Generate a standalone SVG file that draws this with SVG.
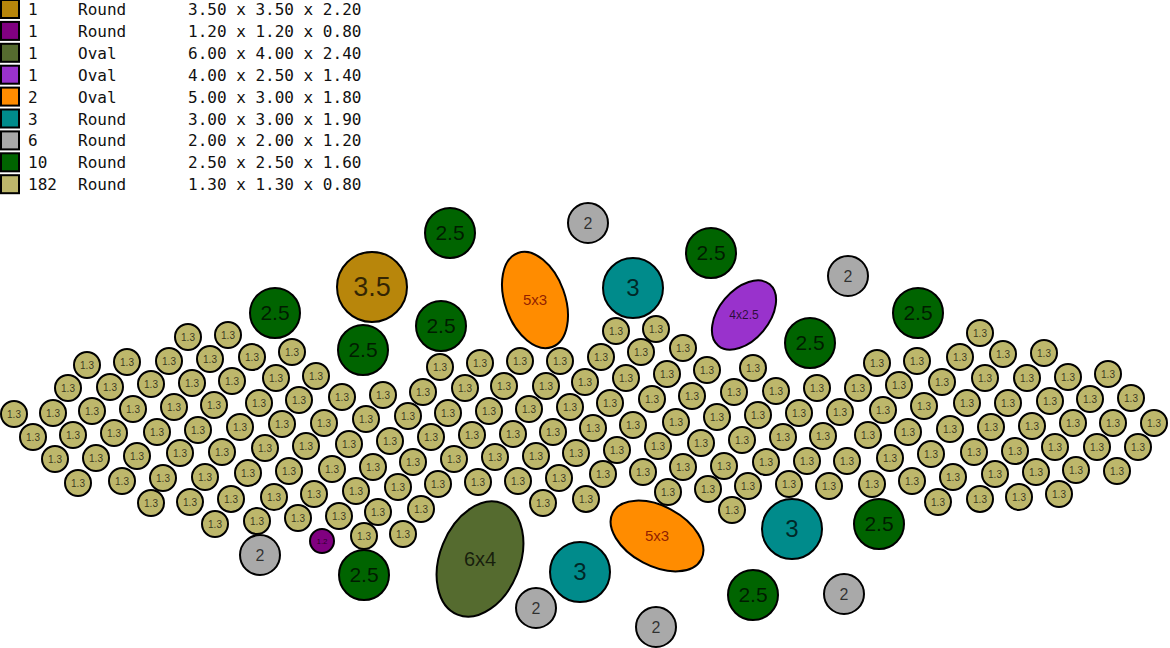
<svg xmlns="http://www.w3.org/2000/svg" width="1170" height="648" viewBox="0 0 1170 648">
<style>
.bg{fill:#fff}
circle,ellipse,.sw{stroke:#000;stroke-width:2}
.k{fill:#BDB76B}
.gr{fill:#006400}
.gy{fill:#A9A9A9}
.tl{fill:#008B8B}
.au{fill:#B8860B}
.pu{fill:#800080}
.ol{fill:#556B2F}
.or{fill:#FF8C00}
.dc{fill:#9932CC}
text{font-family:"Liberation Sans",Arial,sans-serif;text-anchor:middle;fill:#000;fill-opacity:.72}
.s{font-size:10px}
.lg{font-family:"DejaVu Sans Mono","Liberation Mono",monospace;font-size:16px;text-anchor:start;fill:#111;fill-opacity:1}
.ot{fill:#8a1800;fill-opacity:.95}
</style>
<rect class="bg" x="0" y="0" width="1170" height="648"/>
<g id="legend">
<rect class="sw au" x="1" y="0" width="18" height="18"/><text class="lg" x="28" y="15">1</text><text class="lg" x="78" y="15">Round</text><text class="lg" x="188" y="15">3.50 x 3.50 x 2.20</text>
<rect class="sw pu" x="1" y="21.9" width="18" height="18"/><text class="lg" x="28" y="36.9">1</text><text class="lg" x="78" y="36.9">Round</text><text class="lg" x="188" y="36.9">1.20 x 1.20 x 0.80</text>
<rect class="sw ol" x="1" y="43.8" width="18" height="18"/><text class="lg" x="28" y="58.8">1</text><text class="lg" x="78" y="58.8">Oval</text><text class="lg" x="188" y="58.8">6.00 x 4.00 x 2.40</text>
<rect class="sw dc" x="1" y="65.7" width="18" height="18"/><text class="lg" x="28" y="80.7">1</text><text class="lg" x="78" y="80.7">Oval</text><text class="lg" x="188" y="80.7">4.00 x 2.50 x 1.40</text>
<rect class="sw or" x="1" y="87.6" width="18" height="18"/><text class="lg" x="28" y="102.6">2</text><text class="lg" x="78" y="102.6">Oval</text><text class="lg" x="188" y="102.6">5.00 x 3.00 x 1.80</text>
<rect class="sw tl" x="1" y="109.5" width="18" height="18"/><text class="lg" x="28" y="124.5">3</text><text class="lg" x="78" y="124.5">Round</text><text class="lg" x="188" y="124.5">3.00 x 3.00 x 1.90</text>
<rect class="sw gy" x="1" y="131.4" width="18" height="18"/><text class="lg" x="28" y="146.4">6</text><text class="lg" x="78" y="146.4">Round</text><text class="lg" x="188" y="146.4">2.00 x 2.00 x 1.20</text>
<rect class="sw gr" x="1" y="153.3" width="18" height="18"/><text class="lg" x="28" y="168.3">10</text><text class="lg" x="78" y="168.3">Round</text><text class="lg" x="188" y="168.3">2.50 x 2.50 x 1.60</text>
<rect class="sw k" x="1" y="175.2" width="18" height="18"/><text class="lg" x="28" y="190.2">182</text><text class="lg" x="78" y="190.2">Round</text><text class="lg" x="188" y="190.2">1.30 x 1.30 x 0.80</text>
</g>
<g id="connectors"></g>
<g id="big">
<g id="b1"><circle class="gr" cx="450" cy="233" r="25"/><text x="450" y="233" dy=".35em" font-size="21">2.5</text></g>
<g id="b2"><circle class="gy" cx="588" cy="223" r="20"/><text x="588" y="223" dy=".35em" font-size="16">2</text></g>
<g id="b3"><circle class="gr" cx="711" cy="253" r="25"/><text x="711" y="253" dy=".35em" font-size="21">2.5</text></g>
<g id="b4"><circle class="gy" cx="848" cy="276" r="20"/><text x="848" y="276" dy=".35em" font-size="16">2</text></g>
<g id="b5"><circle class="au" cx="372" cy="287" r="35"/><text x="372" y="287" dy=".35em" font-size="27">3.5</text></g>
<g id="b6"><ellipse class="or" cx="535" cy="300" rx="30" ry="50" transform="rotate(-20 535 300)"/><text class="ot" x="535" y="300" dy=".35em" font-size="15">5x3</text></g>
<g id="b7"><circle class="tl" cx="633" cy="288" r="30"/><text x="633" y="288" dy=".35em" font-size="24">3</text></g>
<g id="b8"><ellipse class="dc" cx="744" cy="315" rx="25" ry="40" transform="rotate(40 744 315)"/><text x="744" y="315" dy=".35em" font-size="12">4x2.5</text></g>
<g id="b9"><circle class="gr" cx="275" cy="313" r="25"/><text x="275" y="313" dy=".35em" font-size="21">2.5</text></g>
<g id="b10"><circle class="gr" cx="918" cy="313" r="25"/><text x="918" y="313" dy=".35em" font-size="21">2.5</text></g>
<g id="b11"><circle class="gr" cx="441" cy="326" r="25"/><text x="441" y="326" dy=".35em" font-size="21">2.5</text></g>
<g id="b12"><circle class="gr" cx="363" cy="350" r="25"/><text x="363" y="350" dy=".35em" font-size="21">2.5</text></g>
<g id="b13"><circle class="gr" cx="810" cy="343" r="25"/><text x="810" y="343" dy=".35em" font-size="21">2.5</text></g>
<g id="b14"><circle class="gy" cx="260" cy="555" r="20"/><text x="260" y="555" dy=".35em" font-size="16">2</text></g>
<g id="b15"><circle class="pu" cx="322" cy="541" r="12"/><text x="322" y="541" dy=".35em" font-size="8">1.2</text></g>
<g id="b16"><circle class="gr" cx="364" cy="575" r="25"/><text x="364" y="575" dy=".35em" font-size="21">2.5</text></g>
<g id="b17"><ellipse class="ol" cx="480" cy="559" rx="40" ry="60" transform="rotate(22 480 559)"/><text x="480" y="559" dy=".35em" font-size="20">6x4</text></g>
<g id="b18"><circle class="tl" cx="580" cy="572" r="30"/><text x="580" y="572" dy=".35em" font-size="24">3</text></g>
<g id="b19"><circle class="gy" cx="536" cy="608" r="20"/><text x="536" y="608" dy=".35em" font-size="16">2</text></g>
<g id="b20"><circle class="gy" cx="656" cy="627" r="20"/><text x="656" y="627" dy=".35em" font-size="16">2</text></g>
<g id="b21"><ellipse class="or" cx="657" cy="536" rx="30" ry="50" transform="rotate(-62 657 536)"/><text class="ot" x="657" y="536" dy=".35em" font-size="15">5x3</text></g>
<g id="b22"><circle class="tl" cx="792" cy="529" r="30"/><text x="792" y="529" dy=".35em" font-size="24">3</text></g>
<g id="b23"><circle class="gr" cx="879" cy="524" r="25"/><text x="879" y="524" dy=".35em" font-size="21">2.5</text></g>
<g id="b24"><circle class="gr" cx="753" cy="595" r="25"/><text x="753" y="595" dy=".35em" font-size="21">2.5</text></g>
<g id="b25"><circle class="gy" cx="844" cy="594" r="20"/><text x="844" y="594" dy=".35em" font-size="16">2</text></g>
</g>
<g id="small">
<g id="s1"><circle class="k" cx="188" cy="337" r="13"/><text class="s" x="188" y="337" dy=".35em">1.3</text></g>
<g id="s2"><circle class="k" cx="87" cy="365" r="13"/><text class="s" x="87" y="365" dy=".35em">1.3</text></g>
<g id="s3"><circle class="k" cx="127" cy="362" r="13"/><text class="s" x="127" y="362" dy=".35em">1.3</text></g>
<g id="s4"><circle class="k" cx="169" cy="361" r="13"/><text class="s" x="169" y="361" dy=".35em">1.3</text></g>
<g id="s5"><circle class="k" cx="68" cy="388" r="13"/><text class="s" x="68" y="388" dy=".35em">1.3</text></g>
<g id="s6"><circle class="k" cx="110" cy="387" r="13"/><text class="s" x="110" y="387" dy=".35em">1.3</text></g>
<g id="s7"><circle class="k" cx="151" cy="384" r="13"/><text class="s" x="151" y="384" dy=".35em">1.3</text></g>
<g id="s8"><circle class="k" cx="192" cy="383" r="13"/><text class="s" x="192" y="383" dy=".35em">1.3</text></g>
<g id="s9"><circle class="k" cx="14" cy="414" r="13"/><text class="s" x="14" y="414" dy=".35em">1.3</text></g>
<g id="s10"><circle class="k" cx="53" cy="413" r="13"/><text class="s" x="53" y="413" dy=".35em">1.3</text></g>
<g id="s11"><circle class="k" cx="92" cy="411" r="13"/><text class="s" x="92" y="411" dy=".35em">1.3</text></g>
<g id="s12"><circle class="k" cx="133" cy="409" r="13"/><text class="s" x="133" y="409" dy=".35em">1.3</text></g>
<g id="s13"><circle class="k" cx="174" cy="407" r="13"/><text class="s" x="174" y="407" dy=".35em">1.3</text></g>
<g id="s14"><circle class="k" cx="33" cy="437" r="13"/><text class="s" x="33" y="437" dy=".35em">1.3</text></g>
<g id="s15"><circle class="k" cx="73" cy="435" r="13"/><text class="s" x="73" y="435" dy=".35em">1.3</text></g>
<g id="s16"><circle class="k" cx="114" cy="433" r="13"/><text class="s" x="114" y="433" dy=".35em">1.3</text></g>
<g id="s17"><circle class="k" cx="157" cy="432" r="13"/><text class="s" x="157" y="432" dy=".35em">1.3</text></g>
<g id="s18"><circle class="k" cx="198" cy="430" r="13"/><text class="s" x="198" y="430" dy=".35em">1.3</text></g>
<g id="s19"><circle class="k" cx="55" cy="459" r="13"/><text class="s" x="55" y="459" dy=".35em">1.3</text></g>
<g id="s20"><circle class="k" cx="96" cy="458" r="13"/><text class="s" x="96" y="458" dy=".35em">1.3</text></g>
<g id="s21"><circle class="k" cx="137" cy="456" r="13"/><text class="s" x="137" y="456" dy=".35em">1.3</text></g>
<g id="s22"><circle class="k" cx="180" cy="453" r="13"/><text class="s" x="180" y="453" dy=".35em">1.3</text></g>
<g id="s23"><circle class="k" cx="78" cy="483" r="13"/><text class="s" x="78" y="483" dy=".35em">1.3</text></g>
<g id="s24"><circle class="k" cx="122" cy="481" r="13"/><text class="s" x="122" y="481" dy=".35em">1.3</text></g>
<g id="s25"><circle class="k" cx="163" cy="478" r="13"/><text class="s" x="163" y="478" dy=".35em">1.3</text></g>
<g id="s26"><circle class="k" cx="205" cy="477" r="13"/><text class="s" x="205" y="477" dy=".35em">1.3</text></g>
<g id="s27"><circle class="k" cx="151" cy="503" r="13"/><text class="s" x="151" y="503" dy=".35em">1.3</text></g>
<g id="s28"><circle class="k" cx="190" cy="502" r="13"/><text class="s" x="190" y="502" dy=".35em">1.3</text></g>
<g id="s29"><circle class="k" cx="228" cy="335" r="13"/><text class="s" x="228" y="335" dy=".35em">1.3</text></g>
<g id="s30"><circle class="k" cx="210" cy="359" r="13"/><text class="s" x="210" y="359" dy=".35em">1.3</text></g>
<g id="s31"><circle class="k" cx="252" cy="357" r="13"/><text class="s" x="252" y="357" dy=".35em">1.3</text></g>
<g id="s32"><circle class="k" cx="292" cy="352" r="13"/><text class="s" x="292" y="352" dy=".35em">1.3</text></g>
<g id="s33"><circle class="k" cx="232" cy="381" r="13"/><text class="s" x="232" y="381" dy=".35em">1.3</text></g>
<g id="s34"><circle class="k" cx="276" cy="378" r="13"/><text class="s" x="276" y="378" dy=".35em">1.3</text></g>
<g id="s35"><circle class="k" cx="316" cy="376" r="13"/><text class="s" x="316" y="376" dy=".35em">1.3</text></g>
<g id="s36"><circle class="k" cx="214" cy="405" r="13"/><text class="s" x="214" y="405" dy=".35em">1.3</text></g>
<g id="s37"><circle class="k" cx="259" cy="403" r="13"/><text class="s" x="259" y="403" dy=".35em">1.3</text></g>
<g id="s38"><circle class="k" cx="299" cy="400" r="13"/><text class="s" x="299" y="400" dy=".35em">1.3</text></g>
<g id="s39"><circle class="k" cx="342" cy="397" r="13"/><text class="s" x="342" y="397" dy=".35em">1.3</text></g>
<g id="s40"><circle class="k" cx="383" cy="395" r="13"/><text class="s" x="383" y="395" dy=".35em">1.3</text></g>
<g id="s41"><circle class="k" cx="240" cy="427" r="13"/><text class="s" x="240" y="427" dy=".35em">1.3</text></g>
<g id="s42"><circle class="k" cx="282" cy="424" r="13"/><text class="s" x="282" y="424" dy=".35em">1.3</text></g>
<g id="s43"><circle class="k" cx="324" cy="423" r="13"/><text class="s" x="324" y="423" dy=".35em">1.3</text></g>
<g id="s44"><circle class="k" cx="366" cy="419" r="13"/><text class="s" x="366" y="419" dy=".35em">1.3</text></g>
<g id="s45"><circle class="k" cx="222" cy="452" r="13"/><text class="s" x="222" y="452" dy=".35em">1.3</text></g>
<g id="s46"><circle class="k" cx="265" cy="448" r="13"/><text class="s" x="265" y="448" dy=".35em">1.3</text></g>
<g id="s47"><circle class="k" cx="306" cy="446" r="13"/><text class="s" x="306" y="446" dy=".35em">1.3</text></g>
<g id="s48"><circle class="k" cx="349" cy="444" r="13"/><text class="s" x="349" y="444" dy=".35em">1.3</text></g>
<g id="s49"><circle class="k" cx="248" cy="473" r="13"/><text class="s" x="248" y="473" dy=".35em">1.3</text></g>
<g id="s50"><circle class="k" cx="289" cy="471" r="13"/><text class="s" x="289" y="471" dy=".35em">1.3</text></g>
<g id="s51"><circle class="k" cx="332" cy="469" r="13"/><text class="s" x="332" y="469" dy=".35em">1.3</text></g>
<g id="s52"><circle class="k" cx="373" cy="467" r="13"/><text class="s" x="373" y="467" dy=".35em">1.3</text></g>
<g id="s53"><circle class="k" cx="231" cy="499" r="13"/><text class="s" x="231" y="499" dy=".35em">1.3</text></g>
<g id="s54"><circle class="k" cx="274" cy="497" r="13"/><text class="s" x="274" y="497" dy=".35em">1.3</text></g>
<g id="s55"><circle class="k" cx="314" cy="494" r="13"/><text class="s" x="314" y="494" dy=".35em">1.3</text></g>
<g id="s56"><circle class="k" cx="356" cy="491" r="13"/><text class="s" x="356" y="491" dy=".35em">1.3</text></g>
<g id="s57"><circle class="k" cx="215" cy="524" r="13"/><text class="s" x="215" y="524" dy=".35em">1.3</text></g>
<g id="s58"><circle class="k" cx="257" cy="521" r="13"/><text class="s" x="257" y="521" dy=".35em">1.3</text></g>
<g id="s59"><circle class="k" cx="298" cy="518" r="13"/><text class="s" x="298" y="518" dy=".35em">1.3</text></g>
<g id="s60"><circle class="k" cx="339" cy="516" r="13"/><text class="s" x="339" y="516" dy=".35em">1.3</text></g>
<g id="s61"><circle class="k" cx="378" cy="512" r="13"/><text class="s" x="378" y="512" dy=".35em">1.3</text></g>
<g id="s62"><circle class="k" cx="364" cy="536" r="13"/><text class="s" x="364" y="536" dy=".35em">1.3</text></g>
<g id="s63"><circle class="k" cx="440" cy="367" r="13"/><text class="s" x="440" y="367" dy=".35em">1.3</text></g>
<g id="s64"><circle class="k" cx="480" cy="363" r="13"/><text class="s" x="480" y="363" dy=".35em">1.3</text></g>
<g id="s65"><circle class="k" cx="520" cy="361" r="13"/><text class="s" x="520" y="361" dy=".35em">1.3</text></g>
<g id="s66"><circle class="k" cx="560" cy="361" r="13"/><text class="s" x="560" y="361" dy=".35em">1.3</text></g>
<g id="s67"><circle class="k" cx="423" cy="392" r="13"/><text class="s" x="423" y="392" dy=".35em">1.3</text></g>
<g id="s68"><circle class="k" cx="465" cy="388" r="13"/><text class="s" x="465" y="388" dy=".35em">1.3</text></g>
<g id="s69"><circle class="k" cx="504" cy="386" r="13"/><text class="s" x="504" y="386" dy=".35em">1.3</text></g>
<g id="s70"><circle class="k" cx="546" cy="386" r="13"/><text class="s" x="546" y="386" dy=".35em">1.3</text></g>
<g id="s71"><circle class="k" cx="408" cy="416" r="13"/><text class="s" x="408" y="416" dy=".35em">1.3</text></g>
<g id="s72"><circle class="k" cx="448" cy="413" r="13"/><text class="s" x="448" y="413" dy=".35em">1.3</text></g>
<g id="s73"><circle class="k" cx="489" cy="411" r="13"/><text class="s" x="489" y="411" dy=".35em">1.3</text></g>
<g id="s74"><circle class="k" cx="529" cy="409" r="13"/><text class="s" x="529" y="409" dy=".35em">1.3</text></g>
<g id="s75"><circle class="k" cx="570" cy="407" r="13"/><text class="s" x="570" y="407" dy=".35em">1.3</text></g>
<g id="s76"><circle class="k" cx="390" cy="441" r="13"/><text class="s" x="390" y="441" dy=".35em">1.3</text></g>
<g id="s77"><circle class="k" cx="431" cy="437" r="13"/><text class="s" x="431" y="437" dy=".35em">1.3</text></g>
<g id="s78"><circle class="k" cx="472" cy="435" r="13"/><text class="s" x="472" y="435" dy=".35em">1.3</text></g>
<g id="s79"><circle class="k" cx="513" cy="434" r="13"/><text class="s" x="513" y="434" dy=".35em">1.3</text></g>
<g id="s80"><circle class="k" cx="553" cy="432" r="13"/><text class="s" x="553" y="432" dy=".35em">1.3</text></g>
<g id="s81"><circle class="k" cx="413" cy="462" r="13"/><text class="s" x="413" y="462" dy=".35em">1.3</text></g>
<g id="s82"><circle class="k" cx="454" cy="459" r="13"/><text class="s" x="454" y="459" dy=".35em">1.3</text></g>
<g id="s83"><circle class="k" cx="495" cy="457" r="13"/><text class="s" x="495" y="457" dy=".35em">1.3</text></g>
<g id="s84"><circle class="k" cx="536" cy="456" r="13"/><text class="s" x="536" y="456" dy=".35em">1.3</text></g>
<g id="s85"><circle class="k" cx="398" cy="487" r="13"/><text class="s" x="398" y="487" dy=".35em">1.3</text></g>
<g id="s86"><circle class="k" cx="438" cy="484" r="13"/><text class="s" x="438" y="484" dy=".35em">1.3</text></g>
<g id="s87"><circle class="k" cx="478" cy="482" r="13"/><text class="s" x="478" y="482" dy=".35em">1.3</text></g>
<g id="s88"><circle class="k" cx="518" cy="481" r="13"/><text class="s" x="518" y="481" dy=".35em">1.3</text></g>
<g id="s89"><circle class="k" cx="559" cy="478" r="13"/><text class="s" x="559" y="478" dy=".35em">1.3</text></g>
<g id="s90"><circle class="k" cx="421" cy="509" r="13"/><text class="s" x="421" y="509" dy=".35em">1.3</text></g>
<g id="s91"><circle class="k" cx="543" cy="503" r="13"/><text class="s" x="543" y="503" dy=".35em">1.3</text></g>
<g id="s92"><circle class="k" cx="403" cy="534" r="13"/><text class="s" x="403" y="534" dy=".35em">1.3</text></g>
<g id="s93"><circle class="k" cx="616" cy="331" r="13"/><text class="s" x="616" y="331" dy=".35em">1.3</text></g>
<g id="s94"><circle class="k" cx="656" cy="329" r="13"/><text class="s" x="656" y="329" dy=".35em">1.3</text></g>
<g id="s95"><circle class="k" cx="601" cy="357" r="13"/><text class="s" x="601" y="357" dy=".35em">1.3</text></g>
<g id="s96"><circle class="k" cx="641" cy="352" r="13"/><text class="s" x="641" y="352" dy=".35em">1.3</text></g>
<g id="s97"><circle class="k" cx="683" cy="348" r="13"/><text class="s" x="683" y="348" dy=".35em">1.3</text></g>
<g id="s98"><circle class="k" cx="585" cy="382" r="13"/><text class="s" x="585" y="382" dy=".35em">1.3</text></g>
<g id="s99"><circle class="k" cx="626" cy="378" r="13"/><text class="s" x="626" y="378" dy=".35em">1.3</text></g>
<g id="s100"><circle class="k" cx="667" cy="374" r="13"/><text class="s" x="667" y="374" dy=".35em">1.3</text></g>
<g id="s101"><circle class="k" cx="707" cy="370" r="13"/><text class="s" x="707" y="370" dy=".35em">1.3</text></g>
<g id="s102"><circle class="k" cx="753" cy="368" r="13"/><text class="s" x="753" y="368" dy=".35em">1.3</text></g>
<g id="s103"><circle class="k" cx="610" cy="403" r="13"/><text class="s" x="610" y="403" dy=".35em">1.3</text></g>
<g id="s104"><circle class="k" cx="652" cy="399" r="13"/><text class="s" x="652" y="399" dy=".35em">1.3</text></g>
<g id="s105"><circle class="k" cx="692" cy="396" r="13"/><text class="s" x="692" y="396" dy=".35em">1.3</text></g>
<g id="s106"><circle class="k" cx="734" cy="392" r="13"/><text class="s" x="734" y="392" dy=".35em">1.3</text></g>
<g id="s107"><circle class="k" cx="593" cy="428" r="13"/><text class="s" x="593" y="428" dy=".35em">1.3</text></g>
<g id="s108"><circle class="k" cx="633" cy="425" r="13"/><text class="s" x="633" y="425" dy=".35em">1.3</text></g>
<g id="s109"><circle class="k" cx="676" cy="422" r="13"/><text class="s" x="676" y="422" dy=".35em">1.3</text></g>
<g id="s110"><circle class="k" cx="717" cy="417" r="13"/><text class="s" x="717" y="417" dy=".35em">1.3</text></g>
<g id="s111"><circle class="k" cx="758" cy="415" r="13"/><text class="s" x="758" y="415" dy=".35em">1.3</text></g>
<g id="s112"><circle class="k" cx="576" cy="453" r="13"/><text class="s" x="576" y="453" dy=".35em">1.3</text></g>
<g id="s113"><circle class="k" cx="617" cy="450" r="13"/><text class="s" x="617" y="450" dy=".35em">1.3</text></g>
<g id="s114"><circle class="k" cx="658" cy="446" r="13"/><text class="s" x="658" y="446" dy=".35em">1.3</text></g>
<g id="s115"><circle class="k" cx="701" cy="443" r="13"/><text class="s" x="701" y="443" dy=".35em">1.3</text></g>
<g id="s116"><circle class="k" cx="742" cy="440" r="13"/><text class="s" x="742" y="440" dy=".35em">1.3</text></g>
<g id="s117"><circle class="k" cx="603" cy="474" r="13"/><text class="s" x="603" y="474" dy=".35em">1.3</text></g>
<g id="s118"><circle class="k" cx="643" cy="472" r="13"/><text class="s" x="643" y="472" dy=".35em">1.3</text></g>
<g id="s119"><circle class="k" cx="683" cy="467" r="13"/><text class="s" x="683" y="467" dy=".35em">1.3</text></g>
<g id="s120"><circle class="k" cx="724" cy="466" r="13"/><text class="s" x="724" y="466" dy=".35em">1.3</text></g>
<g id="s121"><circle class="k" cx="586" cy="499" r="13"/><text class="s" x="586" y="499" dy=".35em">1.3</text></g>
<g id="s122"><circle class="k" cx="668" cy="492" r="13"/><text class="s" x="668" y="492" dy=".35em">1.3</text></g>
<g id="s123"><circle class="k" cx="708" cy="489" r="13"/><text class="s" x="708" y="489" dy=".35em">1.3</text></g>
<g id="s124"><circle class="k" cx="748" cy="486" r="13"/><text class="s" x="748" y="486" dy=".35em">1.3</text></g>
<g id="s125"><circle class="k" cx="732" cy="510" r="13"/><text class="s" x="732" y="510" dy=".35em">1.3</text></g>
<g id="s126"><circle class="k" cx="877" cy="363" r="13"/><text class="s" x="877" y="363" dy=".35em">1.3</text></g>
<g id="s127"><circle class="k" cx="917" cy="361" r="13"/><text class="s" x="917" y="361" dy=".35em">1.3</text></g>
<g id="s128"><circle class="k" cx="776" cy="391" r="13"/><text class="s" x="776" y="391" dy=".35em">1.3</text></g>
<g id="s129"><circle class="k" cx="817" cy="388" r="13"/><text class="s" x="817" y="388" dy=".35em">1.3</text></g>
<g id="s130"><circle class="k" cx="858" cy="388" r="13"/><text class="s" x="858" y="388" dy=".35em">1.3</text></g>
<g id="s131"><circle class="k" cx="899" cy="385" r="13"/><text class="s" x="899" y="385" dy=".35em">1.3</text></g>
<g id="s132"><circle class="k" cx="942" cy="382" r="13"/><text class="s" x="942" y="382" dy=".35em">1.3</text></g>
<g id="s133"><circle class="k" cx="799" cy="413" r="13"/><text class="s" x="799" y="413" dy=".35em">1.3</text></g>
<g id="s134"><circle class="k" cx="840" cy="412" r="13"/><text class="s" x="840" y="412" dy=".35em">1.3</text></g>
<g id="s135"><circle class="k" cx="883" cy="410" r="13"/><text class="s" x="883" y="410" dy=".35em">1.3</text></g>
<g id="s136"><circle class="k" cx="924" cy="406" r="13"/><text class="s" x="924" y="406" dy=".35em">1.3</text></g>
<g id="s137"><circle class="k" cx="783" cy="437" r="13"/><text class="s" x="783" y="437" dy=".35em">1.3</text></g>
<g id="s138"><circle class="k" cx="823" cy="436" r="13"/><text class="s" x="823" y="436" dy=".35em">1.3</text></g>
<g id="s139"><circle class="k" cx="868" cy="435" r="13"/><text class="s" x="868" y="435" dy=".35em">1.3</text></g>
<g id="s140"><circle class="k" cx="908" cy="432" r="13"/><text class="s" x="908" y="432" dy=".35em">1.3</text></g>
<g id="s141"><circle class="k" cx="950" cy="429" r="13"/><text class="s" x="950" y="429" dy=".35em">1.3</text></g>
<g id="s142"><circle class="k" cx="766" cy="462" r="13"/><text class="s" x="766" y="462" dy=".35em">1.3</text></g>
<g id="s143"><circle class="k" cx="807" cy="461" r="13"/><text class="s" x="807" y="461" dy=".35em">1.3</text></g>
<g id="s144"><circle class="k" cx="847" cy="461" r="13"/><text class="s" x="847" y="461" dy=".35em">1.3</text></g>
<g id="s145"><circle class="k" cx="890" cy="458" r="13"/><text class="s" x="890" y="458" dy=".35em">1.3</text></g>
<g id="s146"><circle class="k" cx="931" cy="454" r="13"/><text class="s" x="931" y="454" dy=".35em">1.3</text></g>
<g id="s147"><circle class="k" cx="789" cy="484" r="13"/><text class="s" x="789" y="484" dy=".35em">1.3</text></g>
<g id="s148"><circle class="k" cx="829" cy="486" r="13"/><text class="s" x="829" y="486" dy=".35em">1.3</text></g>
<g id="s149"><circle class="k" cx="872" cy="484" r="13"/><text class="s" x="872" y="484" dy=".35em">1.3</text></g>
<g id="s150"><circle class="k" cx="912" cy="481" r="13"/><text class="s" x="912" y="481" dy=".35em">1.3</text></g>
<g id="s151"><circle class="k" cx="938" cy="502" r="13"/><text class="s" x="938" y="502" dy=".35em">1.3</text></g>
<g id="s152"><circle class="k" cx="980" cy="333" r="13"/><text class="s" x="980" y="333" dy=".35em">1.3</text></g>
<g id="s153"><circle class="k" cx="960" cy="357" r="13"/><text class="s" x="960" y="357" dy=".35em">1.3</text></g>
<g id="s154"><circle class="k" cx="1003" cy="354" r="13"/><text class="s" x="1003" y="354" dy=".35em">1.3</text></g>
<g id="s155"><circle class="k" cx="1044" cy="353" r="13"/><text class="s" x="1044" y="353" dy=".35em">1.3</text></g>
<g id="s156"><circle class="k" cx="985" cy="378" r="13"/><text class="s" x="985" y="378" dy=".35em">1.3</text></g>
<g id="s157"><circle class="k" cx="1027" cy="378" r="13"/><text class="s" x="1027" y="378" dy=".35em">1.3</text></g>
<g id="s158"><circle class="k" cx="1068" cy="377" r="13"/><text class="s" x="1068" y="377" dy=".35em">1.3</text></g>
<g id="s159"><circle class="k" cx="1108" cy="374" r="13"/><text class="s" x="1108" y="374" dy=".35em">1.3</text></g>
<g id="s160"><circle class="k" cx="967" cy="403" r="13"/><text class="s" x="967" y="403" dy=".35em">1.3</text></g>
<g id="s161"><circle class="k" cx="1008" cy="403" r="13"/><text class="s" x="1008" y="403" dy=".35em">1.3</text></g>
<g id="s162"><circle class="k" cx="1050" cy="401" r="13"/><text class="s" x="1050" y="401" dy=".35em">1.3</text></g>
<g id="s163"><circle class="k" cx="1090" cy="399" r="13"/><text class="s" x="1090" y="399" dy=".35em">1.3</text></g>
<g id="s164"><circle class="k" cx="1131" cy="398" r="13"/><text class="s" x="1131" y="398" dy=".35em">1.3</text></g>
<g id="s165"><circle class="k" cx="991" cy="427" r="13"/><text class="s" x="991" y="427" dy=".35em">1.3</text></g>
<g id="s166"><circle class="k" cx="1032" cy="426" r="13"/><text class="s" x="1032" y="426" dy=".35em">1.3</text></g>
<g id="s167"><circle class="k" cx="1073" cy="423" r="13"/><text class="s" x="1073" y="423" dy=".35em">1.3</text></g>
<g id="s168"><circle class="k" cx="1113" cy="423" r="13"/><text class="s" x="1113" y="423" dy=".35em">1.3</text></g>
<g id="s169"><circle class="k" cx="1154" cy="423" r="13"/><text class="s" x="1154" y="423" dy=".35em">1.3</text></g>
<g id="s170"><circle class="k" cx="974" cy="452" r="13"/><text class="s" x="974" y="452" dy=".35em">1.3</text></g>
<g id="s171"><circle class="k" cx="1015" cy="451" r="13"/><text class="s" x="1015" y="451" dy=".35em">1.3</text></g>
<g id="s172"><circle class="k" cx="1055" cy="447" r="13"/><text class="s" x="1055" y="447" dy=".35em">1.3</text></g>
<g id="s173"><circle class="k" cx="1097" cy="447" r="13"/><text class="s" x="1097" y="447" dy=".35em">1.3</text></g>
<g id="s174"><circle class="k" cx="1138" cy="447" r="13"/><text class="s" x="1138" y="447" dy=".35em">1.3</text></g>
<g id="s175"><circle class="k" cx="953" cy="477" r="13"/><text class="s" x="953" y="477" dy=".35em">1.3</text></g>
<g id="s176"><circle class="k" cx="995" cy="474" r="13"/><text class="s" x="995" y="474" dy=".35em">1.3</text></g>
<g id="s177"><circle class="k" cx="1036" cy="472" r="13"/><text class="s" x="1036" y="472" dy=".35em">1.3</text></g>
<g id="s178"><circle class="k" cx="1076" cy="470" r="13"/><text class="s" x="1076" y="470" dy=".35em">1.3</text></g>
<g id="s179"><circle class="k" cx="1117" cy="471" r="13"/><text class="s" x="1117" y="471" dy=".35em">1.3</text></g>
<g id="s180"><circle class="k" cx="980" cy="499" r="13"/><text class="s" x="980" y="499" dy=".35em">1.3</text></g>
<g id="s181"><circle class="k" cx="1019" cy="497" r="13"/><text class="s" x="1019" y="497" dy=".35em">1.3</text></g>
<g id="s182"><circle class="k" cx="1059" cy="494" r="13"/><text class="s" x="1059" y="494" dy=".35em">1.3</text></g>
</g>
</svg>
